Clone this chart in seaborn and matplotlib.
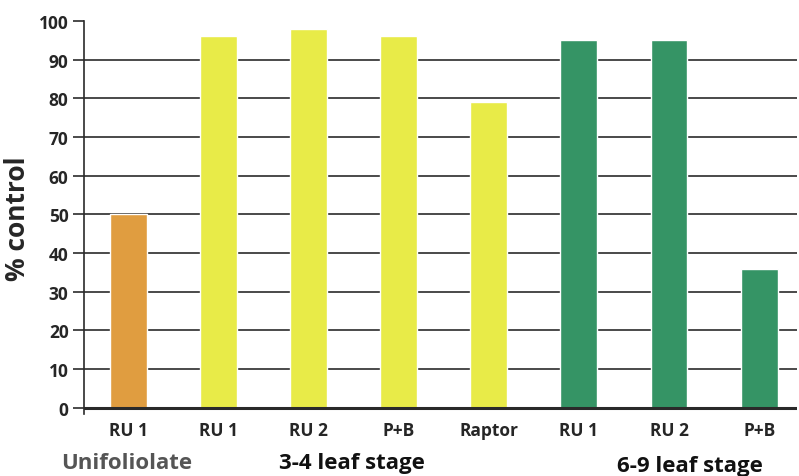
import pandas as pd
import matplotlib.pyplot as plt
import seaborn as sns

# data
treatments = ["RU 1", "RU 1", "RU 2", "P+B", "Raptor", "RU 1", "RU 2", "P+B"]
stages = ["Unifoliolate", "3-4 leaf stage", "3-4 leaf stage", "3-4 leaf stage",
          "3-4 leaf stage", "6-9 leaf stage", "6-9 leaf stage", "6-9 leaf stage"]
control = [50, 96, 98, 96, 79, 95, 95, 36]
stage_colors = {"Unifoliolate": "#E09D40", "3-4 leaf stage": "#E8EB48", "6-9 leaf stage": "#359465"}

df = pd.DataFrame({
    "slot": [f"{i}" for i in range(len(treatments))],
    "treatment": treatments,
    "stage": stages,
    "control": control,
})

sns.set_style("white")
plt.rcParams['font.family'] = ['Open Sans', 'DejaVu Sans']

fig = plt.figure(figsize=(7.99, 4.77), dpi=100)
ax = fig.add_axes([0.105, 0.13, 0.8925, 0.824])

sns.barplot(data=df, x="slot", y="control", hue="stage", palette=stage_colors,
            width=0.41, dodge=False, legend=False, saturation=1, ax=ax)

ax.set_ylim(-1.6, 100)
ax.set_xlim(-0.49, 7.42)
ax.set_yticks(range(0, 101, 10))
for v in range(10, 100, 10):
    ax.axhline(v, color="#4a4a4a", lw=1.4, zorder=0)
ax.axhline(0, color="#2a2a2a", lw=2.2, zorder=3)

for s in ["top", "right", "bottom"]:
    ax.spines[s].set_visible(False)
ax.spines["left"].set_color("#2a2a2a")
ax.spines["left"].set_linewidth(1.2)

ax.tick_params(axis="y", length=8, width=1.4, color="#4a4a4a", pad=3, left=True)
ax.tick_params(axis="x", length=0, pad=5)
ax.set_xticks(range(len(treatments)))
ax.set_xticklabels(treatments, fontsize=12.5, fontweight="bold")
for lbl in ax.get_yticklabels():
    lbl.set_fontsize(12.5)
    lbl.set_fontweight("bold")

ax.set_xlabel("")
ax.set_ylabel("% control", fontsize=19, fontweight="bold", labelpad=6)

# stage labels under the tick labels
fig.text(127 / 799, 1 - 464 / 477, "Unifoliolate", ha="center", va="center",
         fontsize=16, fontweight="bold", color="#555555")
fig.text(352 / 799, 1 - 464 / 477, "3-4 leaf stage", ha="center", va="center",
         fontsize=16, fontweight="bold", color="#111111")
fig.text(690 / 799, 1 - 467 / 477, "6-9 leaf stage", ha="center", va="center",
         fontsize=16, fontweight="bold", color="#111111")

fig.savefig("out.png", dpi=100)
